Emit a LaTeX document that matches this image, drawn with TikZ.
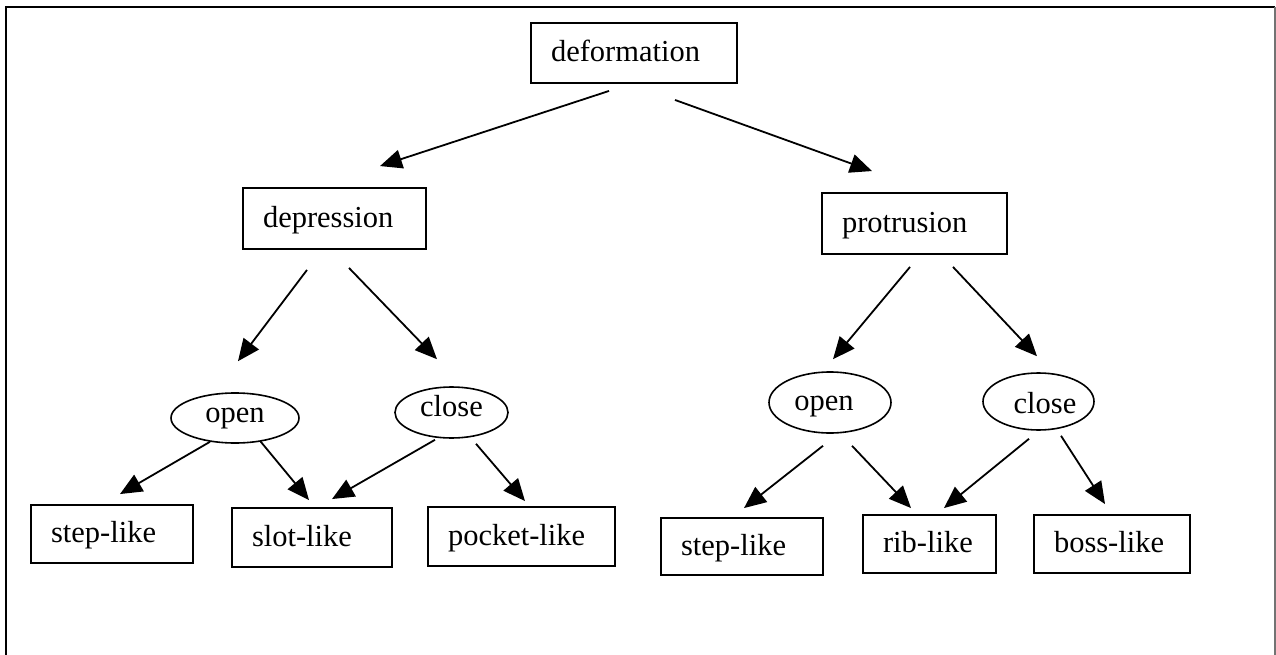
\documentclass[tikz,border=0pt]{standalone}
\usepackage{fontspec}
\setmainfont{Liberation Serif}
\usetikzlibrary{arrows.meta,shapes.geometric}

\tikzset{
  lbl/.style={font=\fontsize{30.5}{36}\selectfont},
  box/.style={lbl, draw, rectangle, line width=1.9pt, inner xsep=20pt, inner ysep=0pt,
              align=left, text height=22pt, text depth=5pt},
  oval/.style={lbl, draw, ellipse, line width=1.6pt, inner sep=0pt,
               text height=14pt, text depth=6pt},
  arr/.style={line width=1.8pt, -{Triangle[length=22pt,width=19pt]}},
  frame/.style={line width=2pt}
}

\begin{document}
\begin{tikzpicture}[x=1pt,y=-1pt]
  \useasboundingbox (0,0) rectangle (1276,655);

  % outer frame, open at the bottom
  \draw[frame] (6,656) -- (6,7) -- (1275,7);
  \draw[frame, black!55] (1275,7) -- (1275,656);

  % root and first level
  \node[box, text width=166pt, minimum height=60pt] (def) at (634,53) {deformation};
  \node[box, text width=143pt, minimum height=61pt] (dep) at (334.5,218.5) {depression};
  \node[box, text width=145pt, minimum height=61pt] (pro) at (914.5,223.5) {protrusion};

  % open / close classes
  \node[oval, minimum width=128pt, minimum height=50pt] (lo) at (235,418) {open};
  \node[oval, minimum width=113pt, minimum height=51pt] (lc) at (451.5,412.5) {close};
  \node[oval, minimum width=122pt, minimum height=61pt, text height=21pt] (ro) at (830,402.5) {\kern-12pt open};
  \node[oval, minimum width=111pt, minimum height=57pt, text height=29pt] (rc) at (1038.5,401.5) {\kern13pt close};

  % leaf features
  \node[box, text width=122pt, minimum height=58pt] (sl) at (112,534) {step-like};
  \node[box, text width=120pt, minimum height=59pt] (sk) at (312,537.5) {slot-like};
  \node[box, text width=147pt, minimum height=59pt] (pk) at (521.5,536.5) {pocket-like};
  \node[box, text width=122pt, minimum height=57pt] (sr) at (742,546.5) {step-like};
  \node[box, text width=93pt,  minimum height=58pt] (rb) at (929.5,544) {rib-like};
  \node[box, text width=116pt, minimum height=58pt] (bs) at (1112,544) {boss-like};

  % connectors
  \draw[arr] ([shift={(-25,7)}]def.south) -- ([shift={(45.5,-21)}]dep.north);
  \draw[arr] ([shift={(41,16)}]def.south) -- ([shift={(-42.5,-21)}]pro.north);

  \draw[arr] ([shift={(-27.5,20)}]dep.south) -- ([shift={(3,-31)}]lo.north);
  \draw[arr] ([shift={(14.5,18)}]dep.south) -- ([shift={(-14.5,-27)}]lc.north);
  \draw[arr] ([shift={(-4.5,12)}]pro.south) -- ([shift={(3,-12)}]ro.north);
  \draw[arr] ([shift={(38.5,12)}]pro.south) -- ([shift={(-1.5,-16)}]rc.north);

  \draw[arr] ([shift={(-25,-2)}]lo.south) -- ([shift={(8,-10)}]sl.north);
  \draw[arr] ([shift={(25,-3)}]lo.south) -- ([shift={(-3,-7)}]sk.north);
  \draw[arr] ([shift={(-16.5,1)}]lc.south) -- ([shift={(20,-8)}]sk.north);
  \draw[arr] ([shift={(24.5,5)}]lc.south) -- ([shift={(3.5,-5)}]pk.north);

  \draw[arr] ([shift={(-7,12)}]ro.south) -- ([shift={(2,-9)}]sr.north);
  \draw[arr] ([shift={(22,12)}]ro.south) -- ([shift={(-18.5,-6)}]rb.north);
  \draw[arr] ([shift={(-9.5,8)}]rc.south) -- ([shift={(14.5,-6)}]rb.north);
  \draw[arr] ([shift={(22.5,5)}]rc.south) -- ([shift={(-7,-10)}]bs.north);
\end{tikzpicture}
\end{document}
